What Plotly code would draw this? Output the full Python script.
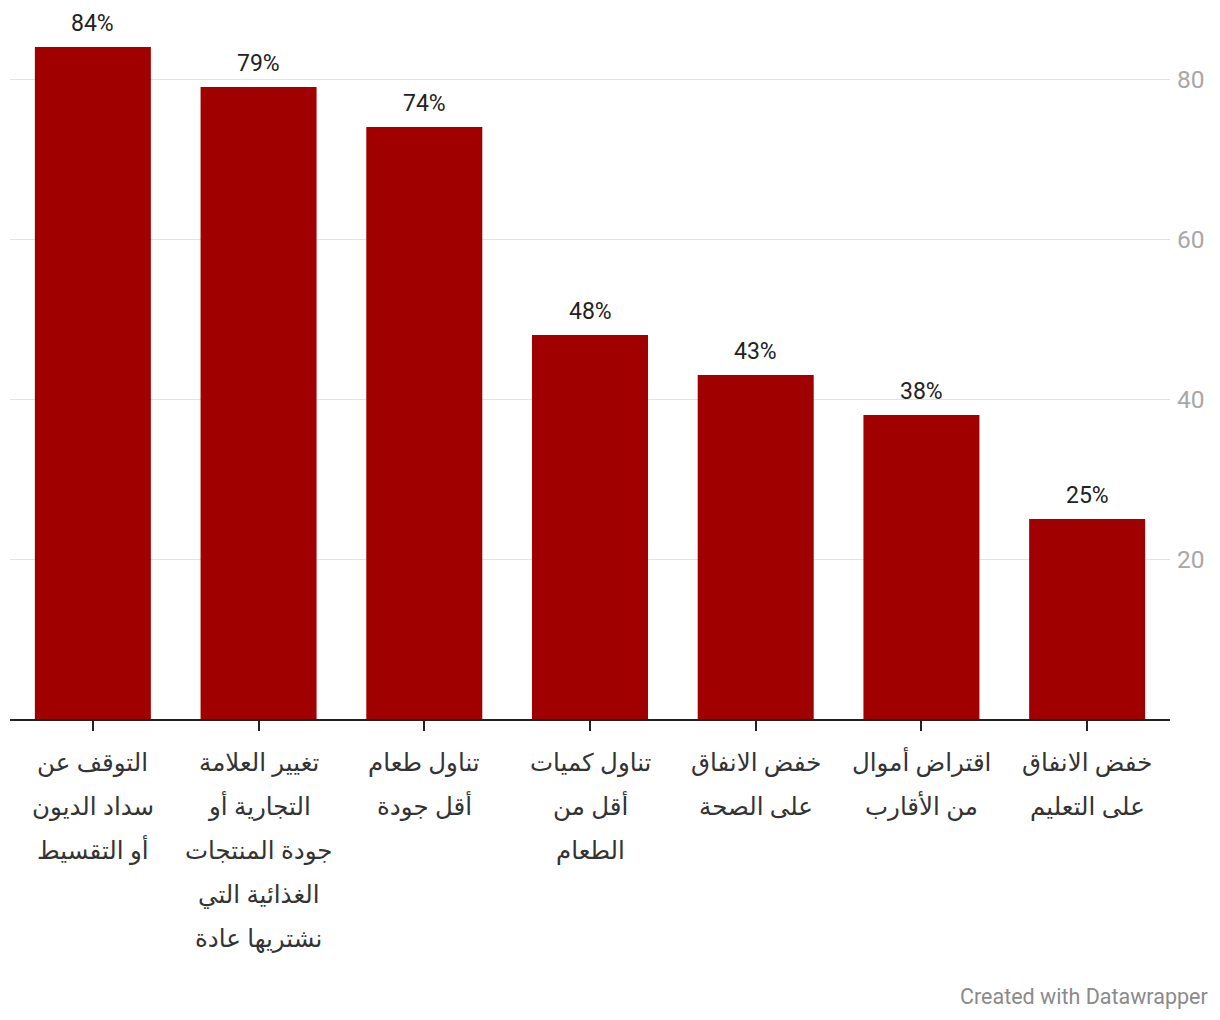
import plotly.graph_objects as go

categories_lines = [
    ["التوقف عن", "سداد الديون", "أو التقسيط"],
    ["تغيير العلامة", "التجارية أو", "جودة المنتجات", "الغذائية التي", "نشتريها عادة"],
    ["تناول طعام", "أقل جودة"],
    ["تناول كميات", "أقل من", "الطعام"],
    ["خفض الانفاق", "على الصحة"],
    ["اقتراض أموال", "من الأقارب"],
    ["خفض الانفاق", "على التعليم"],
]
values = [84, 79, 74, 48, 43, 38, 25]
y_ticks = [20, 40, 60, 80]

categories = [" ".join(l) for l in categories_lines]

fig = go.Figure(go.Bar(
    x=categories, y=values, marker=dict(color="#a10000", line=dict(width=0)),
    hoverinfo="skip",
))

annotations = []
for c, v in zip(categories, values):
    annotations.append(dict(x=c, y=v, xref="x", yref="y", text=f"{v}%", showarrow=False,
                            yanchor="middle", yshift=24,
                            font=dict(family="Roboto", size=23, color="#222222")))
for c, lines in zip(categories, categories_lines):
    for i, line in enumerate(lines):
        annotations.append(dict(x=c, y=0, xref="x", yref="y", text=line, showarrow=False,
                                yanchor="middle", yshift=-(42 + 44 * i),
                                font=dict(family="Noto Sans, DejaVu Sans", size=24.5, color="#333333")))
annotations.append(dict(x=1.0345, y=-0.3977, xref="paper", yref="paper", xanchor="right", yanchor="middle",
                        text="Created with Datawrapper", showarrow=False,
                        font=dict(family="Roboto", size=21.5, color="#8a8a8a")))

fig.update_layout(
    width=1220, height=1020,
    margin=dict(l=10, r=50, t=20, b=301, pad=0),
    paper_bgcolor="white", plot_bgcolor="white",
    bargap=0.3, showlegend=False,
    font=dict(family="Roboto"),
    xaxis=dict(tickvals=categories, ticktext=[""] * len(categories), ticks="outside",
               ticklen=10, tickwidth=2, tickcolor="#222222",
               showline=True, linecolor="#222222", linewidth=2, showgrid=False, zeroline=False,
               fixedrange=True),
    yaxis=dict(side="right", range=[0, 87.375], tickvals=y_ticks, ticktext=[str(t) for t in y_ticks],
               showgrid=True, gridcolor="#e3e3e3", gridwidth=1, zeroline=False, ticks="",
               ticklabelstandoff=6,
               tickfont=dict(family="Roboto", size=24.5, color="#a8a8a8"), fixedrange=True),
    annotations=annotations,
)

fig.write_html("out.html", config={"displayModeBar": False},
               post_script="document.body.style.margin='0';")
